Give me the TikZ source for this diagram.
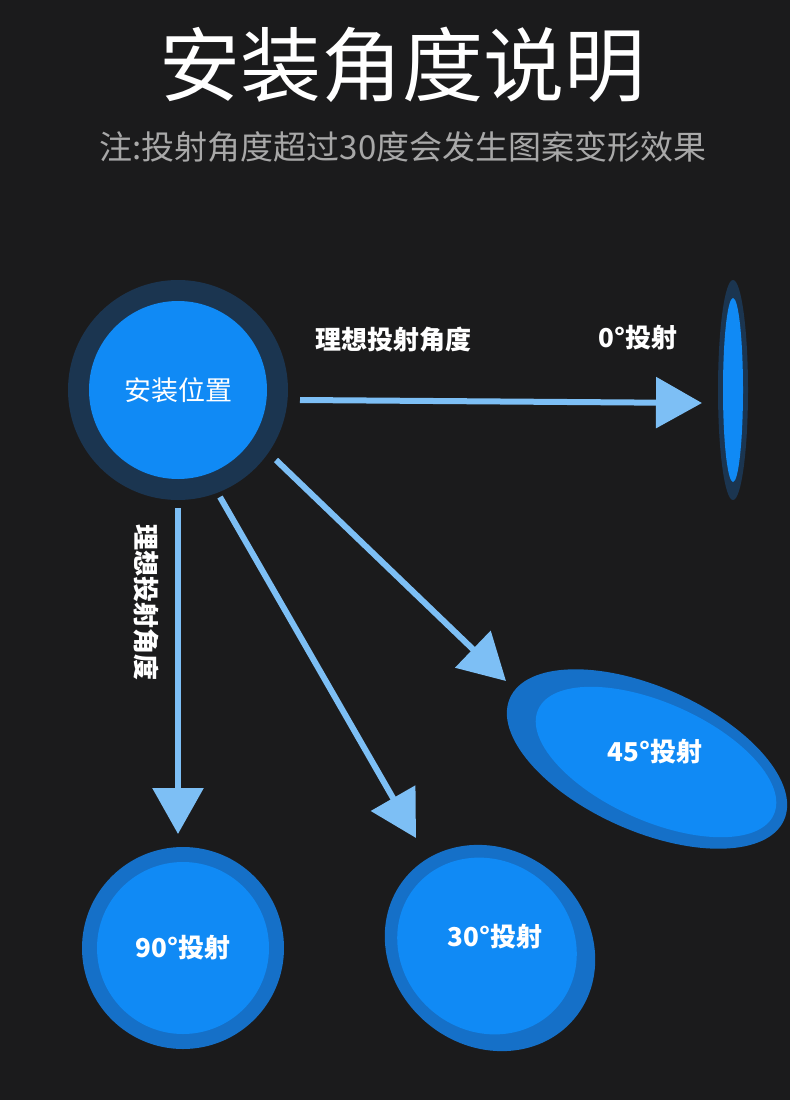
\documentclass[tikz,border=0pt]{standalone}
\usepackage{fontspec}
\setmainfont{Noto Sans CJK SC}
\usetikzlibrary{arrows.meta,shapes.geometric}
\definecolor{bg}{HTML}{1B1B1C}
\definecolor{navy}{HTML}{1B3550}
\definecolor{ring}{HTML}{1570C8}
\definecolor{blu}{HTML}{108AF5}
\definecolor{arr}{HTML}{7DBFF5}
\definecolor{sub}{HTML}{A8A8A8}
\tikzset{
 arrowline/.style={draw=arr,line width=6pt,-{Triangle[width=50pt,length=46pt]},shorten >=0pt},
 lbl/.style={text=white,font=\bfseries\fontsize{26}{28}\selectfont},
}
\begin{document}
\begin{tikzpicture}[x=1pt,y=-1pt]
\fill[bg] (0,0) rectangle (790,1100);
\useasboundingbox (0,0) rectangle (790,1100);
\node[text=white,font=\fontsize{81}{86}\selectfont] (title) at (402,65) {安装角度说明};
\node[text=sub,font=\fontsize{33}{36}\selectfont] (subt) at (403,147) {注:投射角度超过30度会发生图案变形效果};
% source
\fill[navy] (178,390) circle (110);
\fill[blu] (178,390) circle (89);
\node[text=white,font=\fontsize{27}{29}\selectfont] (src) at (178,390) {安装位置};
% 0 deg
\fill[navy] (733,390) ellipse (15 and 110);
\fill[blu] (733,390) ellipse (10 and 92);
\node[lbl] (l0) at (638,338) {0°投射};
% 90
\fill[ring] (183,948) circle (101);
\fill[blu] (183,948) circle (86);
\node[lbl] (l90) at (183,948) {90°投射};
% 30
\fill[ring,rotate around={-40:(490,948)}] (490,948) ellipse (110 and 98);
\fill[blu,rotate around={-40:(487,946)}] (487,946) ellipse (93 and 85);
\node[lbl] (l30) at (495,937) {30°投射};
% 45
\fill[ring,rotate around={-24:(647,759)}] (647,759) ellipse (150 and 72);
\fill[blu,rotate around={-24:(656,762)}] (656,762) ellipse (129 and 59);
\node[lbl] (l45) at (655,752) {45°投射};
% labels
\node[lbl] (ideal) at (393,340) {理想投射角度};
\node[lbl,rotate=-90] (ideal2) at (146,602) {理想投射角度};
% arrows
\coordinate (a0s) at (300,400); \coordinate (a0e) at (702,403);
\coordinate (a9s) at (178,508); \coordinate (a9e) at (178,834);
\coordinate (a3s) at (220,497); \coordinate (a3e) at (416,838);
\coordinate (a4s) at (276,460); \coordinate (a4e) at (506,681);
\draw[arrowline] (a0s) -- (a0e);
\draw[arrowline] (a9s) -- (a9e);
\draw[arrowline] (a3s) -- (a3e);
\draw[arrowline] (a4s) -- (a4e);
\end{tikzpicture}
\end{document}
